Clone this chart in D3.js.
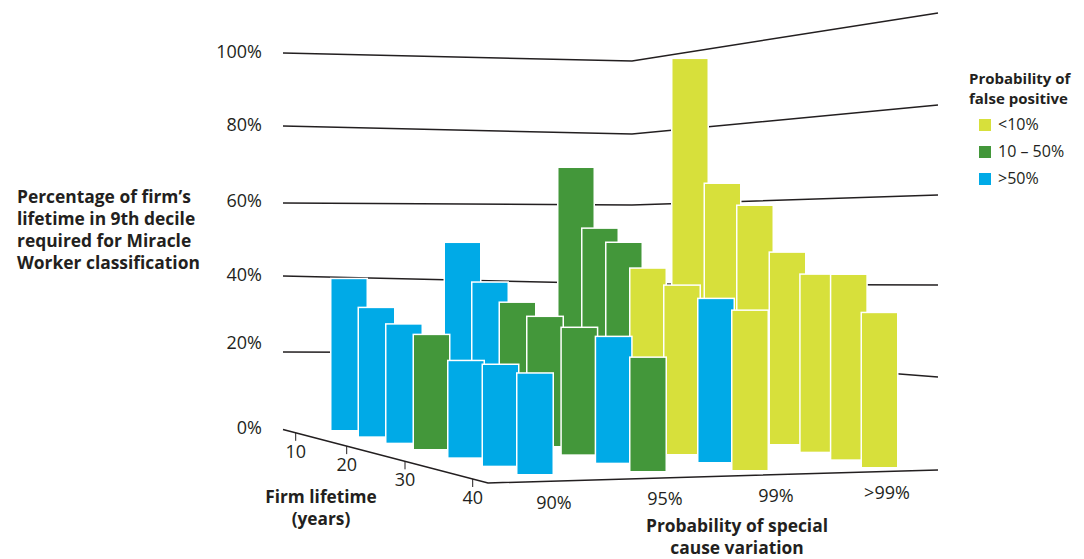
<!DOCTYPE html>
<html>
<head>
<meta charset="utf-8">
<script src="https://cdn.jsdelivr.net/npm/d3@7"></script>
<style>
  body { margin: 0; background: #fff; }
  text { font-family: "Open Sans", sans-serif; fill: #231f20; }
  .bold { font-weight: 700; }
</style>
</head>
<body>
<div id="graph"></div>
<script>
// data
const categories = ["90%", "95%", "99%", ">99%"];
const lifetimes = [10, 15, 20, 25, 30, 35, 40];
const lifetimeTicks = [10, 20, 30, 40];
const valueTicks = [0, 20, 40, 60, 80, 100];
const bands = ["<10%", "10 – 50%", ">50%"];

const values90 = [40, 34, 31.3, 30.2, 25.5, 26.7, 26.6];
const values95 = [48, 39.4, 36, 34.2, 33.5, 33.3, 30];
const values99 = [67.9, 53.7, 51.9, 47, 44.6, 43.2, 42.2];
const values99plus = [96, 64.9, 61.1, 50.7, 46.9, 48.9, 40.8];

// index into bands for each bar
const band90 = [2, 2, 2, 1, 2, 2, 2];
const band95 = [2, 2, 1, 1, 1, 2, 1];
const band99 = [1, 1, 1, 0, 0, 2, 0];
const band99plus = [0, 0, 0, 0, 0, 0, 0];

const allValues = [values90, values95, values99, values99plus];
const allBands = [band90, band95, band99, band99plus];

const svg = d3.select("#graph")
    .append("svg")
    .attr("width", 1084)
    .attr("height", 559);

const color = d3.scaleOrdinal()
    .domain(bands)
    .range(["#d7e03b", "#43973a", "#00aae7"]);

// hand drawn perspective, so every scale bends somewhere
const wallStops = [20, 40, 60, 80, 100];
const wallLeft = d3.scaleLinear().domain(wallStops).range([352, 276, 203, 126, 53]);
const wallCorner = d3.scaleLinear().domain(wallStops).range([353, 284, 205, 134, 61]);
const wallRight = d3.scaleLinear().domain(wallStops).range([377, 285, 195, 105, 13]);
const wallX = { left: 283, corner: 632, right: 938 };

// bar height
const h = d3.scaleLinear().domain([0, 100]).range([0, 377]);

// where a bar stands on the floor, one pair of scales per category
const bend = [10, 25, 40];
const floorX = [
    d3.scaleLinear().domain(bend).range([331.5, 414, 517.5]),
    d3.scaleLinear().domain(bend).range([445, 527.5, 630.5]),
    d3.scaleLinear().domain(bend).range([558.5, 630.5, 732.5]),
    d3.scaleLinear().domain(bend).range([672.5, 770, 862])
];
const floorY = [
    d3.scaleLinear().domain(bend).range([430, 449, 474]),
    d3.scaleLinear().domain(bend).range([424, 446, 471]),
    d3.scaleLinear().domain(bend).range([424, 446, 470]),
    d3.scaleLinear().domain(bend).range([421, 444, 467])
];
const barWidth = 35;

// floor edges
const sideEdge = d3.scaleLinear().domain([283, 488]).range([429.5, 483]);
const frontEdge = d3.scaleLinear().domain([488, 938]).range([483, 470]);
const lifeX = d3.scaleLinear().domain(lifetimeTicks).range([295.7, 346.7, 405, 472.7]);
const catX = d3.scalePoint().domain(categories).range([554, 887]);

// grid lines
const line = d3.line();
svg.append("g")
    .selectAll("path")
    .data(wallStops)
    .join("path")
    .attr("d", d => line([
        [wallX.left, wallLeft(d)],
        [wallX.corner, wallCorner(d)],
        [wallX.right, wallRight(d)]
    ]))
    .attr("fill", "none")
    .attr("stroke", "#231f20")
    .attr("stroke-width", 1.5);

svg.append("path")
    .attr("d", line([
        [283, sideEdge(283)],
        [488, sideEdge(488)],
        [938, frontEdge(938)]
    ]))
    .attr("fill", "none")
    .attr("stroke", "#231f20")
    .attr("stroke-width", 1.5);

// value labels
const labelY = d3.scaleLinear().domain(valueTicks).range([427.5, 342.5, 274.5, 200.5, 124.5, 51.5]);
const yAxis = d3.axisLeft(labelY)
    .tickValues(valueTicks)
    .tickSize(0)
    .tickPadding(0)
    .tickFormat(d => d + "%");
const yG = svg.append("g")
    .attr("transform", "translate(262,0)")
    .call(yAxis);
yG.select(".domain").remove();
yG.selectAll("text").style("font-size", "18px").attr("font-family", null).attr("fill", null);

// lifetime ticks
const lifeG = svg.append("g");
lifeG.selectAll("line")
    .data(lifetimeTicks)
    .join("line")
    .attr("x1", d => lifeX(d))
    .attr("x2", d => lifeX(d))
    .attr("y1", d => sideEdge(lifeX(d)))
    .attr("y2", d => sideEdge(lifeX(d)) + 8)
    .attr("stroke", "#231f20")
    .attr("stroke-width", 1);
lifeG.selectAll("text")
    .data(lifetimeTicks)
    .join("text")
    .attr("x", d => lifeX(d))
    .attr("y", d => sideEdge(lifeX(d)) + 25)
    .attr("text-anchor", "middle")
    .style("font-size", "18px")
    .text(d => d);

// category labels
svg.append("g")
    .selectAll("text")
    .data(categories)
    .join("text")
    .attr("x", d => catX(d))
    .attr("y", d => frontEdge(catX(d)) + 27.5)
    .attr("text-anchor", "middle")
    .style("font-size", "18px")
    .text(d => d);

// flatten, back row first so the front bars cover it
const bars = [];
lifetimes.forEach((life, j) => {
    categories.forEach((cat, i) => {
        bars.push({ i: i, life: life, value: allValues[i][j], band: bands[allBands[i][j]] });
    });
});

svg.append("g")
    .selectAll("rect")
    .data(bars)
    .join("rect")
    .attr("x", d => floorX[d.i](d.life))
    .attr("y", d => floorY[d.i](d.life) - h(d.value))
    .attr("width", barWidth)
    .attr("height", d => h(d.value))
    .attr("fill", d => color(d.band))
    .attr("stroke", "#fff")
    .attr("stroke-width", 3)
    .style("paint-order", "stroke");

// axis titles
function block(lines, x, y0, step, size, anchor) {
    const t = svg.append("text")
        .attr("class", "bold")
        .attr("text-anchor", anchor)
        .style("font-size", size + "px");
    lines.forEach((s, i) => {
        t.append("tspan").attr("x", x).attr("y", y0 + i * step).text(s);
    });
}
block(["Percentage of firm’s", "lifetime in 9th decile", "required for Miracle", "Worker classification"], 17, 202.5, 22, 17.4, "start");
block(["Firm lifetime", "(years)"], 321, 503, 22, 17.3, "middle");
// kept just above the bottom edge, the reference sits right on it
block(["Probability of special", "cause variation"], 737, 532, 21.7, 17.4, "middle");

// legend
block(["Probability of", "false positive"], 969, 84, 19.5, 15, "start");
const legendY = d3.scalePoint().domain(bands).range([125, 179]);
const legend = svg.append("g")
    .selectAll("g")
    .data(bands)
    .join("g")
    .attr("transform", d => `translate(979,${legendY(d)})`);
legend.append("rect")
    .attr("y", -6)
    .attr("width", 12)
    .attr("height", 12)
    .attr("fill", d => color(d));
legend.append("text")
    .attr("x", 19)
    .attr("y", 5)
    .style("font-size", "16px")
    .text(d => d);
</script>
</body>
</html>
